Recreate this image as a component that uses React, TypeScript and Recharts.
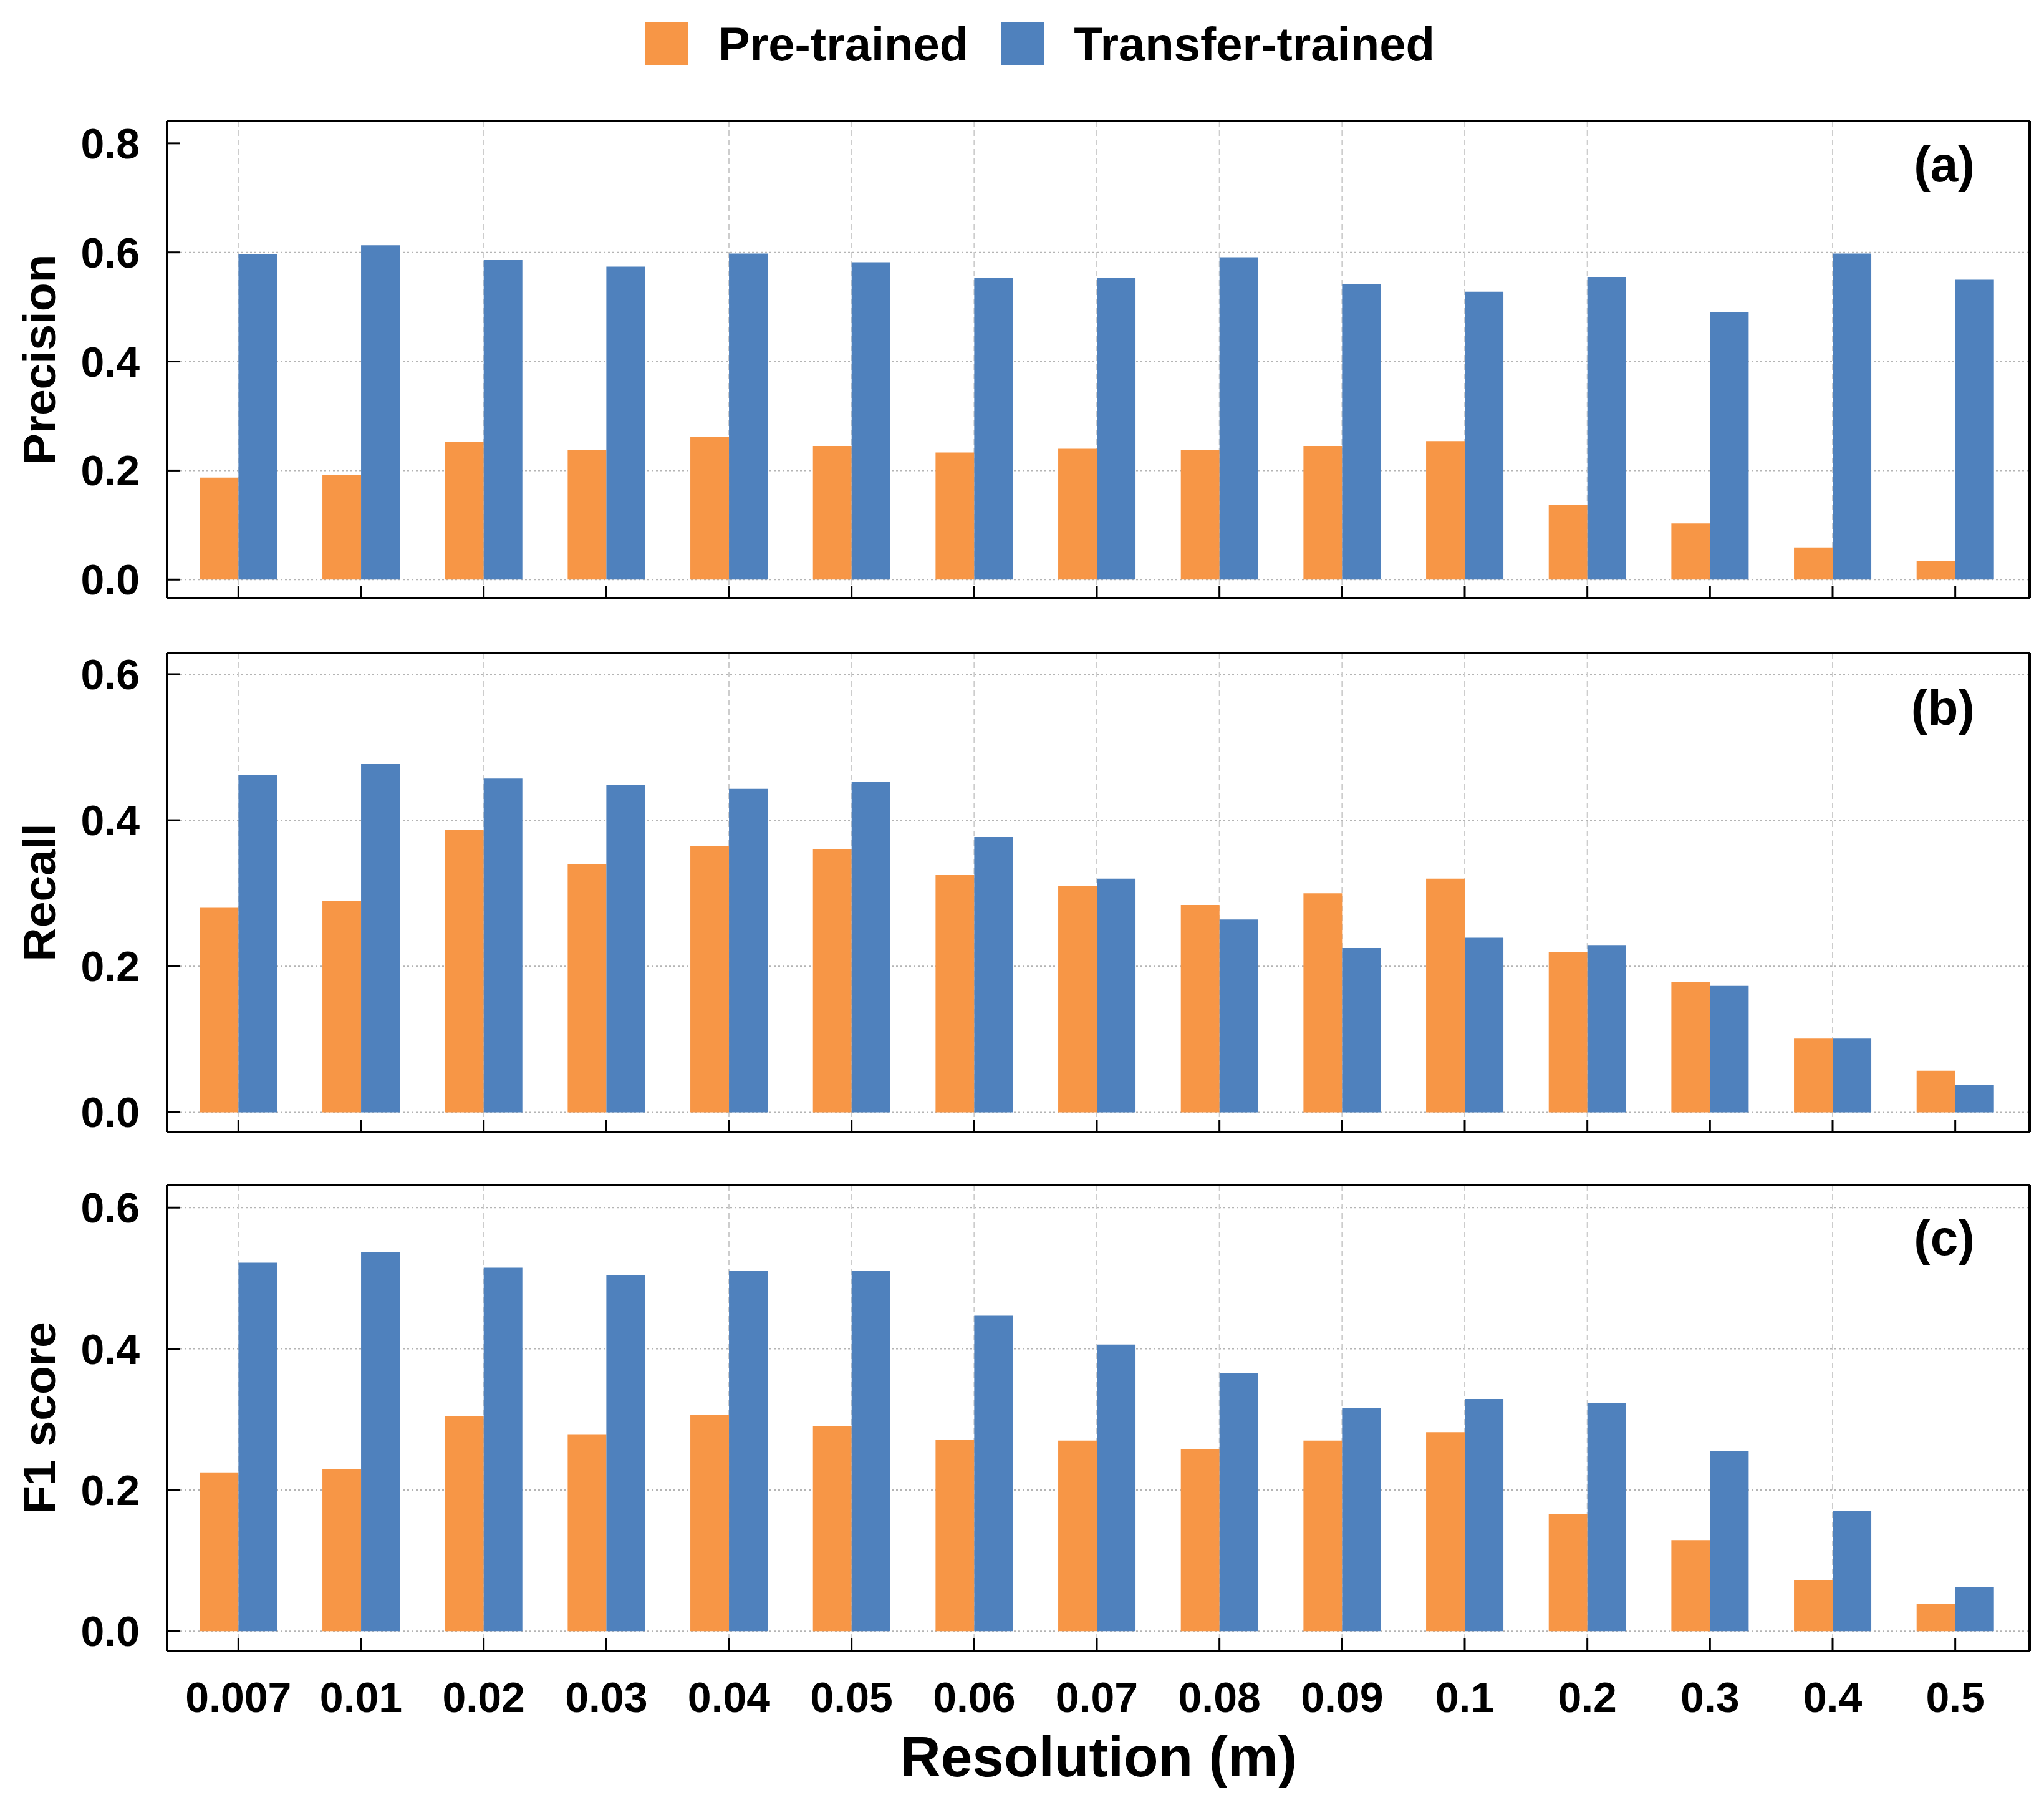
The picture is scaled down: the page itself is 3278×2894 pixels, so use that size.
import React from 'react';
import { BarChart, Bar, XAxis, YAxis, CartesianGrid, Label } from 'recharts';

const resolutions = ['0.007', '0.01', '0.02', '0.03', '0.04', '0.05', '0.06', '0.07', '0.08', '0.09', '0.1', '0.2', '0.3', '0.4', '0.5'];

const precisionPre = [0.187, 0.192, 0.252, 0.237, 0.262, 0.245, 0.233, 0.24, 0.237, 0.245, 0.254, 0.137, 0.103, 0.059, 0.034];
const precisionTransfer = [0.597, 0.613, 0.586, 0.574, 0.598, 0.582, 0.553, 0.553, 0.591, 0.542, 0.528, 0.555, 0.49, 0.598, 0.55];

const recallPre = [0.28, 0.29, 0.387, 0.34, 0.365, 0.36, 0.325, 0.31, 0.284, 0.3, 0.32, 0.219, 0.178, 0.101, 0.057];
const recallTransfer = [0.462, 0.477, 0.457, 0.448, 0.443, 0.453, 0.377, 0.32, 0.264, 0.225, 0.239, 0.229, 0.173, 0.101, 0.037];

const f1Pre = [0.225, 0.229, 0.305, 0.279, 0.306, 0.29, 0.271, 0.27, 0.258, 0.27, 0.282, 0.166, 0.129, 0.072, 0.039];
const f1Transfer = [0.522, 0.537, 0.515, 0.504, 0.51, 0.51, 0.447, 0.406, 0.366, 0.316, 0.329, 0.323, 0.255, 0.17, 0.063];

const seriesNames = ['Pre-trained', 'Transfer-trained'];
const seriesColors = ['#F79646', '#4F81BD'];

const gridCategories = ['0.007', '0.02', '0.04', '0.05', '0.06', '0.07', '0.08', '0.09', '0.1', '0.2', '0.4'];

const ticksPrecision = [0, 0.2, 0.4, 0.6, 0.8];
const gridPrecision = [0, 0.2, 0.4, 0.6];
const ticksRecall = [0, 0.2, 0.4, 0.6];
const ticksF1 = [0, 0.2, 0.4, 0.6];

const FONT = '"Liberation Sans", Arial, Helvetica, sans-serif';

const buildRows = (pre: number[], transfer: number[]) =>
  resolutions.map((name, i) => ({ name, pre: pre[i], transfer: transfer[i] }));

const verticalGridGenerator = (args: any) => {
  const xAxis = args && args.xAxis;
  if (!xAxis) return undefined;
  // Prefer the axis' own ticks (coordinates already include the band offset)
  const ticks = xAxis.ticks;
  if (Array.isArray(ticks) && ticks.length && typeof ticks[0] === 'object' && ticks[0] && 'coordinate' in ticks[0]) {
    const pts = ticks
      .filter((t: any) => gridCategories.includes(String(t.value)))
      .map((t: any) => t.coordinate);
    if (pts.length) return pts;
  }
  const s = xAxis.scale;
  if (!s) return undefined;
  const f =
    typeof s === 'function'
      ? s
      : typeof s.map === 'function'
      ? (v: any) => s.map(v)
      : typeof s.apply === 'function'
      ? (v: any) => s.apply(v)
      : null;
  if (!f) return undefined;
  let bw = 0;
  if (typeof s.bandwidth === 'function') bw = s.bandwidth();
  const pts = gridCategories
    .map((c) => f(c))
    .filter((v: any) => typeof v === 'number' && !isNaN(v))
    .map((v: number) => v + bw / 2);
  return pts.length ? pts : undefined;
};

const YTick = (props: any) => {
  const { x, y, payload } = props;
  return (
    <text
      x={x}
      y={y}
      textAnchor="end"
      dominantBaseline="central"
      fontSize={68}
      fontWeight="bold"
      fontFamily={FONT}
      fill="#000"
    >
      {Number(payload.value).toFixed(1)}
    </text>
  );
};

const XTickLabel = (props: any) => {
  const { x, y, payload } = props;
  return (
    <text x={x} y={y + 98} textAnchor="middle" fontSize={68} fontWeight="bold" fontFamily={FONT} fill="#000">
      {payload.value}
    </text>
  );
};

const XTickEmpty = () => <g />;

type PanelProps = {
  rows: any[];
  yLabel: string;
  tag: string;
  tagOffset: number;
  domain: [number, number];
  ticks: number[];
  gridTicks: number[];
  top: number;
  height: number;
  margin: { top: number; right: number; bottom: number; left: number };
  xAxisHeight: number;
  showXLabels: boolean;
  xTitle?: string;
};

const Panel = (p: PanelProps) => {
  return (
    <div style={{ position: 'absolute', left: 0, top: p.top, width: 3278, height: p.height }}>
      <BarChart
        width={3278}
        height={p.height}
        data={p.rows}
        margin={p.margin}
        barCategoryGap="18.5%"
        barGap={0}
      >
        <CartesianGrid
          vertical={false}
          horizontalValues={p.gridTicks}
          stroke="#b4b4b4"
          strokeDasharray="3 4"
          strokeWidth={2}
        />
        <CartesianGrid
          horizontal={false}
          verticalCoordinatesGenerator={verticalGridGenerator}
          stroke="#cdcdcd"
          strokeDasharray="9 6"
          strokeWidth={2}
        />
        <XAxis
          dataKey="name"
          interval={0}
          height={p.xAxisHeight}
          padding={{ left: 16, right: 21 }}
          tickSize={-20}
          tickMargin={20}
          tickLine={{ stroke: '#000', strokeWidth: 3 }}
          tick={p.showXLabels ? XTickLabel : XTickEmpty}
          axisLine={{ stroke: '#000', strokeWidth: 4 }}
        >
          {p.xTitle && (
            <Label
              content={(lp: any) => {
                const vb = lp.viewBox;
                return (
                  <text
                    x={vb.x + vb.width / 2}
                    y={vb.y + 201}
                    textAnchor="middle"
                    fontSize={91}
                    fontWeight="bold"
                    fontFamily={FONT}
                    fill="#000"
                  >
                    {p.xTitle}
                  </text>
                );
              }}
            />
          )}
        </XAxis>
        <XAxis
          xAxisId="top"
          orientation="top"
          dataKey="name"
          height={1}
          tick={false}
          tickLine={false}
          axisLine={{ stroke: '#000', strokeWidth: 4 }}
        >
          <Label
            content={(lp: any) => {
              const vb = lp.viewBox;
              return (
                <text
                  x={vb.x + vb.width - 88}
                  y={vb.y + vb.height + p.tagOffset}
                  textAnchor="end"
                  dominantBaseline="central"
                  fontSize={80}
                  fontWeight="bold"
                  fontFamily={FONT}
                  fill="#000"
                >
                  {p.tag}
                </text>
              );
            }}
          />
        </XAxis>
        <YAxis
          type="number"
          domain={p.domain}
          ticks={p.ticks}
          allowDataOverflow
          width={200}
          tickSize={-20}
          tickMargin={64}
          tickLine={{ stroke: '#000', strokeWidth: 3 }}
          tick={YTick}
          axisLine={{ stroke: '#000', strokeWidth: 4 }}
        >
          <Label
            content={(lp: any) => {
              const vb = lp.viewBox;
              const cx = vb.x - 5;
              const cy = vb.y + vb.height / 2;
              return (
                <text
                  x={cx}
                  y={cy}
                  transform={`rotate(-90, ${cx}, ${cy})`}
                  textAnchor="middle"
                  dominantBaseline="central"
                  fontSize={75}
                  fontWeight="bold"
                  fontFamily={FONT}
                  fill="#000"
                >
                  {p.yLabel}
                </text>
              );
            }}
          />
        </YAxis>
        <YAxis
          yAxisId="right"
          orientation="right"
          type="number"
          domain={p.domain}
          width={1}
          tick={false}
          tickLine={false}
          axisLine={{ stroke: '#000', strokeWidth: 4 }}
        />
        <Bar dataKey="pre" name={seriesNames[0]} fill={seriesColors[0]} isAnimationActive={false} />
        <Bar dataKey="transfer" name={seriesNames[1]} fill={seriesColors[1]} isAnimationActive={false} />
      </BarChart>
    </div>
  );
};

const LegendBar = () => (
  <div
    style={{
      position: 'absolute',
      left: 1035,
      top: 36,
      height: 69,
      display: 'flex',
      alignItems: 'center',
      fontFamily: FONT,
      fontWeight: 'bold',
      fontSize: 76,
      color: '#000',
      whiteSpace: 'nowrap',
    }}
  >
    {seriesNames.map((n, i) => (
      <div key={n} style={{ display: 'flex', alignItems: 'center', marginRight: i === 0 ? 52 : 0 }}>
        <div style={{ width: 69, height: 69, background: seriesColors[i], marginRight: 48 }} />
        <span style={{ lineHeight: '69px' }}>{n}</span>
      </div>
    ))}
  </div>
);

export default function App() {
  return (
    <div style={{ position: 'absolute', left: 0, top: 0, width: 3278, height: 2894, background: '#fff', overflow: 'hidden' }}>
      <LegendBar />
      <Panel
        rows={buildRows(precisionPre, precisionTransfer)}
        yLabel="Precision"
        tag="(a)"
        tagOffset={69}
        domain={[-0.034, 0.841]}
        ticks={ticksPrecision}
        gridTicks={gridPrecision}
        top={0}
        height={1000}
        margin={{ top: 193, right: 22, bottom: 40, left: 68 }}
        xAxisHeight={1}
        showXLabels={false}
      />
      <Panel
        rows={buildRows(recallPre, recallTransfer)}
        yLabel="Recall"
        tag="(b)"
        tagOffset={87}
        domain={[-0.027, 0.629]}
        ticks={ticksRecall}
        gridTicks={ticksRecall}
        top={1000}
        height={840}
        margin={{ top: 46, right: 22, bottom: 24, left: 68 }}
        xAxisHeight={1}
        showXLabels={false}
      />
      <Panel
        rows={buildRows(f1Pre, f1Transfer)}
        yLabel="F1 score"
        tag="(c)"
        tagOffset={84}
        domain={[-0.028, 0.632]}
        ticks={ticksF1}
        gridTicks={ticksF1}
        top={1840}
        height={1054}
        margin={{ top: 59, right: 22, bottom: 47, left: 68 }}
        xAxisHeight={200}
        showXLabels={true}
        xTitle="Resolution (m)"
      />
    </div>
  );
}
